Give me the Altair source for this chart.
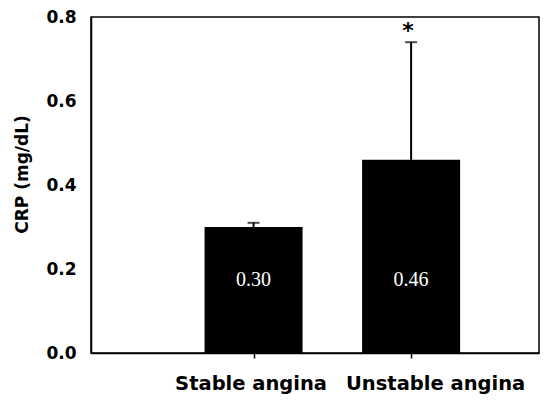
import altair as alt
import pandas as pd

# ---- data ----
groups = ["Stable angina", "Unstable angina"]
positions = [1, 2]
crp_mean = [0.30, 0.46]
crp_err = [0.01, 0.28]
sig_marks = ["", "*"]
y_ticks = [0.0, 0.2, 0.4, 0.6, 0.8]

df = pd.DataFrame({
    "group": groups,
    "pos": positions,
    "mean": crp_mean,
    "err": crp_err,
    "sig": sig_marks,
})

label_expr = " : ".join(
    f"datum.value == {p} ? '{g}'" for p, g in zip(positions, groups)
) + " : ''"

x_enc = alt.X(
    "pos:Q",
    scale=alt.Scale(domain=[0, 2.78], nice=False, zero=False),
    axis=alt.Axis(
        values=positions, labelExpr=label_expr, title=None, grid=False,
        tickSize=5, tickWidth=1.5, tickColor="black",
        domainColor="black", domainWidth=1.5,
        labelFont="DejaVu Sans", labelFontWeight="bold", labelFontSize=19.5,
        labelColor="black", labelPadding=16, labelOverlap=False,
        labelOffset={"condition": {"test": f"datum.value == {positions[0]}", "value": -3},
                     "value": 24},
    ),
)
y_scale = alt.Scale(domain=[0, 0.8], nice=False)
y_enc = alt.Y(
    "mean:Q",
    scale=y_scale,
    axis=alt.Axis(
        values=y_ticks, format=".1f", title="CRP (mg/dL)", grid=False,
        ticks=False, tickSize=0, domainColor="black", domainWidth=1.5,
        labelFont="DejaVu Sans", labelFontWeight="bold", labelFontSize=17,
        labelColor="black", labelPadding=15,
        titleFont="DejaVu Sans", titleFontWeight="bold", titleFontSize=17,
        titleColor="black", titlePadding=14, titleY=157,
    ),
)

base = alt.Chart(df).transform_calculate(upper="datum.mean + datum.err")

bars = base.mark_bar(size=98, color="black").encode(x=x_enc, y=y_enc)

err_rule = base.mark_rule(color="black", strokeWidth=2).encode(
    x="pos:Q", y=alt.Y("mean:Q", scale=y_scale), y2="upper:Q"
)
err_cap = base.mark_tick(orient="horizontal", size=12, thickness=2, color="black").encode(
    x="pos:Q", y=alt.Y("upper:Q", scale=y_scale)
)

value_text = base.mark_text(
    font="Liberation Serif", fontSize=20, color="white", baseline="middle"
).encode(
    x="pos:Q", y=alt.datum(0.175), text=alt.Text("mean:Q", format=".2f")
)

star = base.mark_text(
    font="DejaVu Sans", fontWeight="bold", fontSize=22, color="black",
    baseline="middle", dy=-11, dx=-3
).encode(x="pos:Q", y=alt.Y("upper:Q", scale=y_scale), text="sig:N")

chart = alt.layer(bars, err_rule, err_cap, value_text, star).properties(
    width=448, height=336,
    padding={"left": 5, "top": 0, "right": 5, "bottom": 5},
    background="white",
).configure_view(stroke="black", strokeWidth=1.5)

chart.save("out.html", embed_options={"renderer": "svg", "actions": False})
